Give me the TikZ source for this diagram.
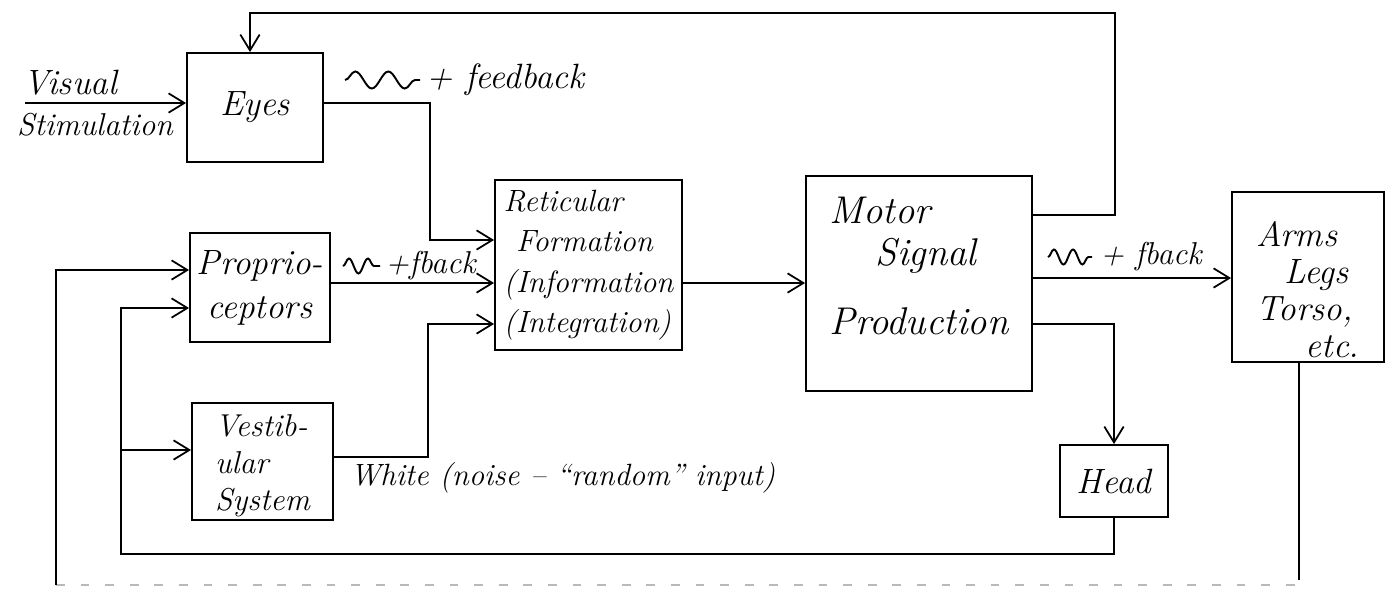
\documentclass[tikz,border=0pt]{standalone}
\usetikzlibrary{arrows.meta,decorations.pathmorphing}
\newcommand\hwfont{\itshape\fontsize{20}{25}\selectfont}
\newcommand\hwsmall{\itshape\fontsize{18}{22}\selectfont}
\tikzset{
  px/.style={x=0.02cm, y=-0.02cm},
  box/.style={draw, line width=1.1pt, inner sep=0pt, font=\hwfont, align=center},
  wire/.style={line width=1.1pt},
  feed/.style={wire, -{Straight Barb[length=9pt,width=11pt,line width=1pt]}},
  wave/.style={line width=1.1pt, decorate,
    decoration={snake, amplitude=0.17cm, segment length=0.66cm}},
  shortwave/.style={line width=1.1pt, decorate,
    decoration={snake, amplitude=0.15cm, segment length=0.38cm}},
  note/.style={font=\hwfont, inner sep=0pt},
  smallnote/.style={font=\hwsmall, inner sep=0pt},
}
\begin{document}
\begin{tikzpicture}[px]
\useasboundingbox (0,0) rectangle (1399,589);

% ---- blocks ----
\node[box, minimum width=2.72cm, minimum height=2.18cm] (eyes) at (255,107.5) {Eyes};
\node[box, minimum width=2.80cm, minimum height=2.18cm] (prop) at (260,287.5)
  {Proprio-\\ceptors};
\node[box, minimum width=2.82cm, minimum height=2.34cm, font=\itshape\fontsize{18}{21}\selectfont, align=left] (vest) at (262.5,461.5)
  {\mbox{}\\[-4pt]Vestib-\\ular\\System};
\node[box, minimum width=3.74cm, minimum height=3.40cm, font=\itshape\fontsize{17.5}{23}\selectfont, align=left] (ret) at (588.5,265)
  {Reticular\\\hspace*{0.4em}Formation\\(Information\\(Integration)};
\node[box, minimum width=4.52cm, minimum height=4.30cm, font=\itshape\fontsize{22}{24}\selectfont, align=left] (motor) at (919,283.5)
  {Motor\\\hspace*{1.2em}Signal\\[15pt]Production\\[-4pt]\mbox{}};
\node[box, minimum width=3.04cm, minimum height=3.40cm, font=\itshape\fontsize{20}{21}\selectfont, align=left] (arms) at (1308,277)
  {\mbox{}\\[8pt]Arms\\\hspace*{0.8em}Legs\\Torso,\\\hspace*{1.4em}etc.};
\node[box, minimum width=2.16cm, minimum height=1.44cm] (head) at (1114,481) {Head};

% ---- free ends ----
\coordinate (vsin) at (25,103);
\coordinate (armsend) at (1299,580);
\coordinate (outer) at (56,585);

% ---- inputs ----
\node[note, anchor=south] (visual) at (70,96) {Visual};
\node[smallnote, anchor=north] (stim) at (95,113) {Stimulation};
\draw[feed] (vsin) -- (eyes.west |- vsin);

% ---- motor feedback to the eyes ----
\draw[feed] (motor.east |- 0,215) -- (1115,215) -- (1115,13) -- (250,13) -- (eyes.north -| 250,0);

% ---- sensory signals into the reticular formation ----
\draw[feed] (eyes.east |- 0,103) -- (430,103) -- (430,240) -- (ret.west |- 0,240);
\draw[feed] (prop.east |- 0,283) -- (ret.west |- 0,283);
\draw[feed] (vest.east |- 0,457) -- (428,457) -- (428,324) -- (ret.west |- 0,324);

% ---- reticular to motor, motor to the body ----
\draw[feed] (ret.east |- 0,283) -- (motor.west |- 0,283);
\draw[feed] (motor.east |- 0,278) -- (arms.west |- 0,278);
\draw[feed] (motor.east |- 0,324) -- (1114,324) -- (head.north);

% ---- head loop back to proprioceptors and vestibular system ----
\draw[feed] (head.south) -- (1114,554) -- (121,554) -- (121,308) -- (prop.west |- 0,308);
\draw[feed] (121,450) -- (vest.west |- 0,450);

% ---- body loop back to proprioceptors ----
\draw[wire] (arms.south -| armsend) -- (armsend);
\draw[gray!55, line width=0.8pt, dash pattern=on 5pt off 9pt] (outer) -- (armsend |- outer);
\draw[feed] (outer) -- (56,270) -- (prop.west |- 0,270);

% ---- signal labels ----
\draw[wave] (345,80) -- (420,80);
\node[note, anchor=west] (fb1) at (426,80) {+ feedback};
\draw[shortwave] (343,266) -- (380,266);
\node[smallnote, anchor=west] (fb2) at (385,266) {+fback};
\draw[shortwave] (1048,257) -- (1092,257);
\node[smallnote, anchor=west] (fb3) at (1100,257) {+ fback};
\node[font=\itshape\fontsize{17.5}{21}\selectfont, inner sep=0pt, anchor=west] (noise) at (350,478)
  {White (noise -- ``random'' input)};
\end{tikzpicture}
\end{document}
